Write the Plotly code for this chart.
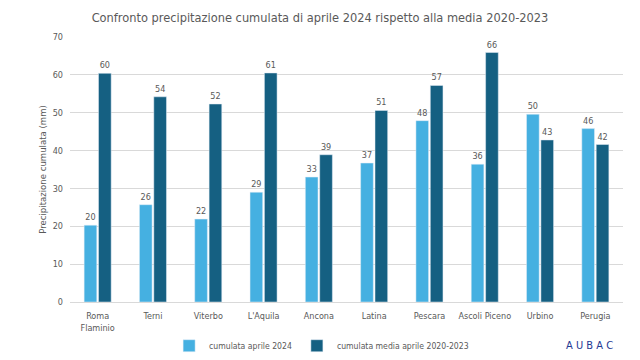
import plotly.graph_objects as go

categories = ["Roma<br>Flaminio", "Terni", "Viterbo", "L'Aquila", "Ancona", "Latina",
              "Pescara", "Ascoli Piceno", "Urbino", "Perugia"]
cum_2024 = [20.3, 25.7, 21.9, 29.0, 33.0, 36.7, 47.9, 36.4, 49.6, 45.8]
cum_media = [60.4, 54.2, 52.3, 60.5, 38.9, 50.6, 57.2, 65.9, 42.8, 41.6]

FONT = "DejaVu Sans Condensed, Roboto, Arial"
GREY = "#595959"

fig = go.Figure()
fig.add_trace(go.Bar(x=categories, y=cum_2024, name="cumulata aprile 2024",
                     marker_color="#45B0E1", texttemplate="%{y:.0f}",
                     textposition="outside", textfont=dict(size=9, color=GREY),
                     cliponaxis=False))
fig.add_trace(go.Bar(x=categories, y=cum_media, name="cumulata media aprile 2020-2023",
                     marker_color="#156082", texttemplate="%{y:.0f}",
                     textposition="outside", textfont=dict(size=9, color=GREY),
                     cliponaxis=False))

fig.update_layout(
    width=640, height=360,
    paper_bgcolor="white", plot_bgcolor="white",
    font=dict(family=FONT, color=GREY, size=9),
    margin=dict(l=70, r=17, t=37, b=58, autoexpand=False),
    title=dict(text="Confronto precipitazione cumulata di aprile 2024 rispetto alla media 2020-2023",
               x=0.5, xanchor="center", y=0.952, yanchor="middle",
               font=dict(size=12.7, color=GREY, family=FONT)),
    barmode="group", bargap=0.48, bargroupgap=0.12,
    showlegend=True,
    legend=dict(orientation="h", x=0.455, xanchor="center", y=-0.165, yanchor="middle",
                font=dict(size=8.6, color=GREY), itemwidth=30, traceorder="normal"),
    xaxis=dict(showgrid=False, showline=True, linecolor="#d9d9d9", ticks="",
               tickfont=dict(size=9, color=GREY), automargin=False, ticklabelstandoff=5),
    yaxis=dict(range=[0, 70], dtick=10, showgrid=True, gridcolor="#d9d9d9",
               zeroline=False, ticks="", tickfont=dict(size=9, color=GREY),
               automargin=False, ticklabelstandoff=6,
               title=dict(text="Precipitazione cumulata (mm)", font=dict(size=9.5, color=GREY),
                          standoff=4)),
)

fig.add_annotation(text="A U B A C", xref="paper", yref="paper", x=0.986, xanchor="right",
                   y=-0.165, yanchor="middle", showarrow=False,
                   font=dict(size=11, color="#1F3A93", family="DejaVu Sans Condensed, Arial"))

fig.write_html("out.html", config={"displayModeBar": False},
               post_script="document.body.style.margin='0';document.body.style.padding='0';")
